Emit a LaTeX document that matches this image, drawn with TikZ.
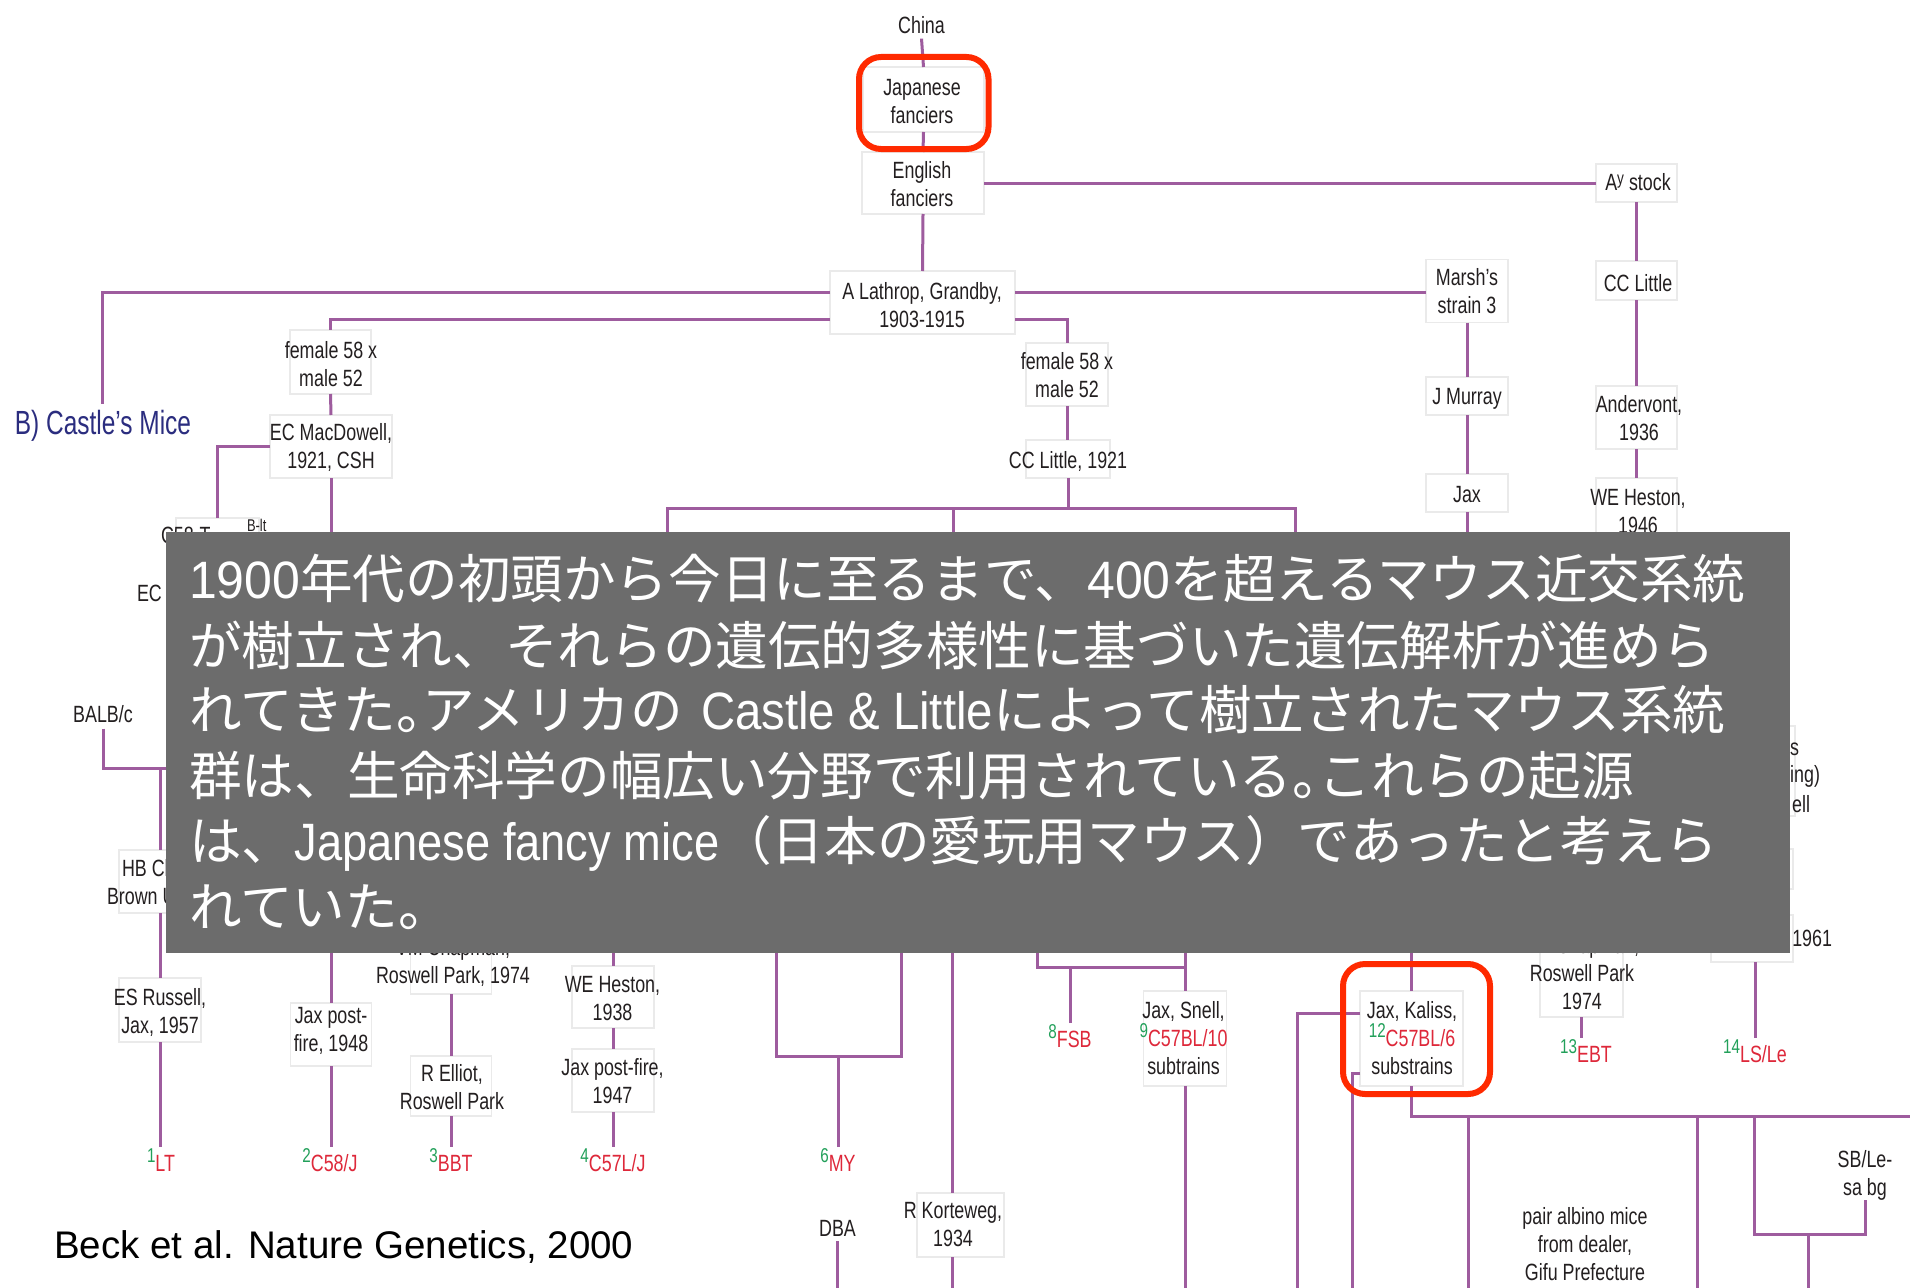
\documentclass[tikz,border=0pt]{standalone}
\usepackage{fontspec}
\setmainfont{Liberation Sans}
\newfontfamily\condf[FakeStretch=0.76]{Liberation Sans}
\newfontfamily\condx[FakeStretch=0.73]{Liberation Sans}
\newfontfamily\jpf{Noto Sans CJK JP}
\newfontfamily\arialf{Liberation Sans}
\newfontfamily\latdf[FakeStretch=0.95]{Liberation Sans}
\newfontfamily\latlf[FakeStretch=0.86]{Liberation Sans}
\newfontfamily\latmf[FakeStretch=0.9]{Liberation Sans}
\definecolor{lnp}{RGB}{158,92,158}
\definecolor{bxg}{RGB}{234,234,234}
\definecolor{txd}{RGB}{35,31,32}
\definecolor{hlr}{RGB}{255,42,0}
\definecolor{lgreen}{RGB}{34,160,90}
\definecolor{lred}{RGB}{222,40,58}
\definecolor{cblue}{RGB}{43,45,127}
\definecolor{ovg}{RGB}{108,108,108}
\newcommand\dgf{\condf\fontsize{23.5}{28}\selectfont}
\newcommand\latd[1]{{\latdf #1}}
\newcommand\latl[1]{{\latlf #1}}
\newcommand\latm[1]{{\latmf #1}}
\newcommand\hmaru{\makebox[0.5em][l]{。}}
\newcommand\strn[2]{\textcolor{lgreen}{\raisebox{9pt}{\fontsize{20}{20}\selectfont #1}}\textcolor{lred}{#2}}
\newcommand\supy[1]{\raisebox{6pt}{\fontsize{18}{18}\selectfont #1}}
\newcommand\bxn[5]{\node[bx, minimum width=#4pt, minimum height=#5pt] (#1) at (#2,#3) {};}
\begin{document}
\begin{tikzpicture}[x=1pt,y=-1pt,
  ln/.style={draw=lnp, line width=3pt},
  bx/.style={draw=bxg, line width=1.2pt, fill=white, inner sep=0pt, outer sep=0pt},
  tx/.style={text=txd, font=\dgf, align=center, inner sep=0pt, outer sep=0pt},
  lbl/.style={font=\dgf, inner sep=0pt, outer sep=0pt, anchor=base, text height=24pt, text depth=0pt},
  hl/.style={draw=hlr, line width=6pt, rounded corners=22pt},
  jpt/.style={text=white, font=\jpf\fontsize{52.6}{66}\selectfont, anchor=west, inner sep=0pt}]
\clip (0,0) rectangle (1910,1287);
\fill[white] (0,0) rectangle (1910,1287);
% ---- boxes
\bxn{jap}{923.5}{99.5}{121}{65}
\bxn{eng}{923}{183}{122}{62}
\bxn{lath}{922.5}{302.5}{185}{63}
\bxn{ay}{1636.5}{183}{81}{38}
\bxn{ccl}{1636.5}{280.5}{81}{39}
\bxn{andv}{1636.5}{417.5}{81}{63}
\bxn{weh46}{1636.5}{509}{81}{62}
\bxn{marsh}{1467}{291}{82}{63}
\bxn{jmur}{1467}{396}{82}{38}
\bxn{jaxb}{1467}{493}{82}{38}
\bxn{fem1}{330.5}{362}{81}{64}
\bxn{ecm}{331}{446.5}{122}{63}
\bxn{c58}{217.5}{539}{83}{42}
\bxn{fem2}{1067}{374.5}{82}{63}
\bxn{cc21}{1068}{459}{84}{38}
\bxn{hb}{160}{881.5}{82}{63}
\bxn{esr}{160}{1010}{82}{64}
\bxn{jp48}{331}{1034.5}{81}{63}
\bxn{vmc}{451}{959.5}{81}{69}
\bxn{rell}{451}{1086}{81}{60}
\bxn{weh38}{613}{997}{82}{62}
\bxn{jp47}{613}{1080.5}{82}{63}
\bxn{kort}{960.5}{1225}{87}{64}
\bxn{jsn}{1185}{1038.5}{83}{95}
\bxn{jk}{1411.5}{1038.5}{103}{95}
\bxn{rp74}{1581.5}{971}{83}{92}
\bxn{bsixone}{1752}{938.5}{82}{47}
\bxn{rfa}{1747.5}{771}{95}{90}
\bxn{rfb}{1752}{869}{82}{40}
% ---- texts
\node[tx] (chn) at (921.5,25) {China};
\node[tx] (japt) at (922,102) {Japanese\\fanciers};
\node[tx] (engt) at (922,184) {English\\fanciers};
\node[tx] (latht) at (922,305) {A Lathrop, Grandby,\\1903-1915};
\node[tx] (ayt) at (1638,182.5) {A\supy{y} stock};
\node[tx] (cclt) at (1638,283) {CC Little};
\node[tx] (andvt) at (1639,418.5) {Andervont,\\1936};
\node[tx] (weh46t) at (1638,511.5) {WE Heston,\\1946};
\node[tx] (marsht) at (1467,291) {Marsh’s\\strain 3};
\node[tx] (jmurt) at (1467,399) {J Murray};
\node[tx] (jaxt) at (1467,495) {Jax};
\node[tx] (fem1t) at (331,364) {female 58 x\\male 52};
\node[tx] (ecmt) at (331,447.5) {EC MacDowell,\\1921, CSH};
\node[tx] (fem2t) at (1067,375.5) {female 58 x\\male 52};
\node[tx] (cc21t) at (1068,461) {CC Little, 1921};
\node[tx, text=cblue, font=\condx\fontsize{33.5}{38}\selectfont] (castle) at (103,426) {B) Castle’s Mice};
\node[tx, anchor=base west] (c58t) at (161,543) {C58-T};
\node[tx, anchor=base west, font=\condf\fontsize{17}{20}\selectfont] (c58s) at (247,531) {B-lt};
\node[tx, anchor=west] (ecmfr) at (137,593) {EC M};
\node[tx] (balb) at (103,714) {BALB/c};
\node[tx, anchor=west] (hbt1) at (122,868) {HB Ch};
\node[tx, anchor=west] (hbt2) at (107,897) {Brown U};
\node[tx] (esrt) at (160,1012) {ES Russell,\\Jax, 1957};
\node[tx] (jp48t) at (331,1030.5) {Jax post-\\fire, 1948};
\node[tx] (vmct) at (453,962) {VM Chapman,\\Roswell Park, 1974};
\node[tx] (rellt) at (452,1087) {R Elliot,\\Roswell Park};
\node[tx] (weh38t) at (612.5,998.5) {WE Heston,\\1938};
\node[tx] (jp47t) at (612.5,1081.5) {Jax post-fire,\\1947};
\node[tx] (dba) at (837.5,1228) {DBA};
\node[tx] (kortt) at (953,1225) {R Korteweg,\\1934};
\node[tx] (jsnt) at (1183.5,1038.5) {Jax, Snell,\\\strn{9}{C57BL/10}\\subtrains};
\node[tx] (jkt) at (1412,1038.5) {Jax, Kaliss,\\\strn{12}{C57BL/6}\\substrains};
\node[tx] (rp74t) at (1582,973) {VM Chapman,\\Roswell Park\\1974};
\node[tx, anchor=east] (b61t) at (1832,938) {1961};
\node[tx, anchor=east] (rf1) at (1799,749) {s};
\node[tx, anchor=east] (rf2) at (1820,776) {ing)};
\node[tx, anchor=east] (rf3) at (1810,804) {ell};
\node[tx] (gifu) at (1585,1244) {pair albino mice\\from dealer,\\Gifu Prefecture};
\node[tx] (sb) at (1865,1175.5) {SB/Le-\\sa bg};
% ---- strain labels
\node[lbl] (lt) at (161,1171) {\strn{1}{LT}};
\node[lbl] (c58j) at (330,1171) {\strn{2}{C58/J}};
\node[lbl] (bbt) at (451,1171) {\strn{3}{BBT}};
\node[lbl] (c57l) at (613,1171) {\strn{4}{C57L/J}};
\node[lbl] (my) at (838,1171) {\strn{6}{MY}};
\node[lbl] (fsb) at (1070,1047) {\strn{8}{FSB}};
\node[lbl] (ebt) at (1586,1062) {\strn{13}{EBT}};
\node[lbl] (lsle) at (1755,1062) {\strn{14}{LS/Le}};
% ---- helper coordinates
\coordinate (r292) at (0,292);
\coordinate (r319) at (0,319);
\coordinate (r508) at (0,508);
\coordinate (r967) at (0,967);
\coordinate (r1013) at (0,1013);
\coordinate (r1073) at (0,1073);
\coordinate (gb) at (0,945);
\coordinate (cst) at (102,404);
\coordinate (bL) at (667,545);
\coordinate (bM) at (953,545);
\coordinate (bR) at (1295,545);
\coordinate (balbR) at (200,768);
\coordinate (myL) at (776,945);
\coordinate (myR) at (901,945);
\coordinate (kx) at (952,945);
\coordinate (fL) at (1037,945);
\coordinate (kone) at (1468,1116);
\coordinate (ktwo) at (1697,1116);
\coordinate (kthree) at (1754,1116);
\coordinate (kfour) at (1808,1234);
\coordinate (klone) at (1297,1300);
\coordinate (kltwo) at (1352,1300);
% ---- connectors
\draw[ln] ([yshift=-5pt]chn.south) -- (jap.north);
\draw[ln] (jap.south) -- (eng.north);
\draw[ln] (eng.south) -- (lath.north);
\draw[ln] (eng.east) -- (ay.west);
\draw[ln] (ay.south) -- (ccl.north);
\draw[ln] (ccl.south) -- (andv.north);
\draw[ln] (andv.south) -- (weh46.north);
\draw[ln] (weh46.south) -- ++(0,20);
\draw[ln] (lath.west |- r292) -| (cst);
\draw[ln] (lath.west |- r319) -| (fem1.north);
\draw[ln] (lath.east |- r292) -- (marsh.west |- r292);
\draw[ln] (lath.east |- r319) -| (fem2.north);
\draw[ln] (fem1.south) -- (ecm.north);
\draw[ln] (ecm.west) -| (c58.north);
\draw[ln] (ecm.south) -- ++(0,80);
\draw[ln] (fem2.south) -- (fem2.south |- cc21.north);
\draw[ln] (cc21.south) -- (cc21.south |- r508);
\draw[ln] (bL) -- (bL |- r508) -- (bR |- r508) -- (bR);
\draw[ln] (bM) -- (bM |- r508);
\draw[ln] (marsh.south) -- (jmur.north);
\draw[ln] (jmur.south) -- (jaxb.north);
\draw[ln] (jaxb.south) -- ++(0,20);
\draw[ln] ([yshift=-6pt]balb.south) |- (balbR);
\draw[ln] (hb.north |- balbR) -- (hb.north);
\draw[ln] (hb.south) -- (esr.north);
\draw[ln] (esr.south) -- (esr.south |- lt.north);
\draw[ln] (jp48.north |- gb) -- (jp48.north);
\draw[ln] (jp48.south) -- (jp48.south |- c58j.north);
\draw[ln] (vmc.south) -- (rell.north);
\draw[ln] (rell.south) -- (rell.south |- bbt.north);
\draw[ln] (weh38.north |- gb) -- (weh38.north);
\draw[ln] (weh38.south) -- (jp47.north);
\draw[ln] (jp47.south) -- (jp47.south |- c57l.north);
\draw[ln] (myL) -- ++(0,111) -| (myR);
\draw[ln] (my.north) -- ++(0,-91);
\draw[ln] ([yshift=-5pt]dba.south) -- ++(0,60);
\draw[ln] (kx) -- (kx |- kort.north);
\draw[ln] (kx |- kort.south) -- ++(0,40);
\draw[ln] (fL) |- (jsn.north |- r967);
\draw[ln] (jsn.north |- gb) -- (jsn.north);
\draw[ln] (fsb.north) -- (fsb.north |- r967);
\draw[ln] (jsn.south) -- ++(0,220);
\draw[ln] (jk.north |- gb) -- (jk.north);
\draw[ln] (jk.south) -- ++(0,30) -- ++(540,0);
\draw[ln] (kone) -- ++(0,200);
\draw[ln] (ktwo) -- ++(0,200);
\draw[ln] (kthree) -- ++(0,118) -| (sb.south);
\draw[ln] (kfour) -- ++(0,80);
\draw[ln] (jk.west |- r1013) -| (klone);
\draw[ln] (jk.west |- r1073) -| (kltwo);
\draw[ln] (rp74.south) -- (rp74.south |- ebt.north);
\draw[ln] (lsle.north |- bsixone.south) -- (lsle.north);
% ---- overlay
\fill[ovg] (166,532) rectangle (1790,953);
\node[jpt] (jt1) at (189,579) {\latd{1900}年代の初頭から今日に至るまで、\latd{400}を超えるマウス近交系統};
\node[jpt] (jt2) at (189,645) {が樹立され、それらの遺伝的多様性に基づいた遺伝解析が進めら};
\node[jpt] (jt3) at (189,710) {れてきた\hmaru アメリカの\hspace{18pt}\latm{Castle \& Little}によって樹立されたマウス系統};
\node[jpt] (jt4) at (189,776) {群は、生命科学の幅広い分野で利用されている\hmaru これらの起源};
\node[jpt] (jt5) at (189,843) {は、\latl{Japanese fancy mice}（日本の愛玩用マウス）であったと考えら};
\node[jpt] (jt6) at (189,907) {れていた。};
\node[anchor=west, inner sep=0pt, text=black, font=\arialf\fontsize{38.5}{46}\selectfont] (beck) at (54,1247) {Beck et al. Nature Genetics, 2000};
% ---- highlights
\draw[hl] (859,57) rectangle (988.5,149);
\draw[hl] (1343,964) rectangle (1490,1094);
\end{tikzpicture}
\end{document}
